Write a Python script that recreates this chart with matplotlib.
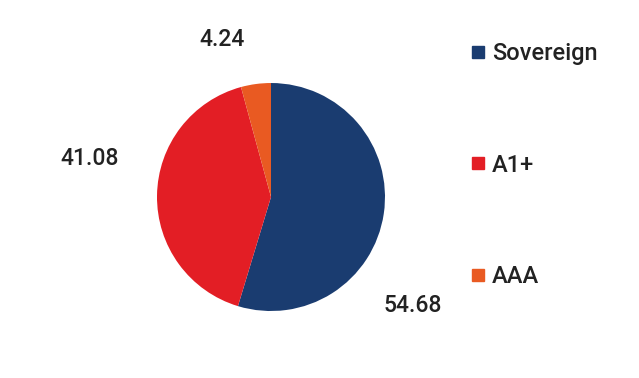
import matplotlib.pyplot as plt
from matplotlib.lines import Line2D

plt.rcParams['font.family'] = ['Roboto', 'DejaVu Sans']

labels = ["Sovereign", "A1+", "AAA"]
values = [54.68, 41.08, 4.24]
colors = ["#1A3C70", "#E31E25", "#E95A22"]
# label anchor positions (axes data units, radius = 1)
label_pos = [(1.24, -0.95), (-1.59, 0.34), (-0.43, 1.38)]

fig = plt.figure(figsize=(6.39, 3.78), dpi=100)
ax = fig.add_axes([0.2457, 0.1772, 0.3568, 0.6032])
ax.pie(values, colors=colors, startangle=90, counterclock=False, radius=1,
       wedgeprops=dict(linewidth=0))
ax.set_xlim(-1, 1)
ax.set_ylim(-1, 1)
ax.set_aspect("equal")
ax.axis("off")

for v, (x, y) in zip(values, label_pos):
    ax.text(x, y, f"{v:.2f}", ha="center", va="center", fontsize=16.5,
            fontweight="medium", color="#222222", clip_on=False)

handles = [Line2D([], [], marker="s", linestyle="none", markersize=8,
                  markerfacecolor=c, markeredgecolor=c) for c in colors]
fig.legend(handles, labels, loc="upper left", bbox_to_anchor=(0.703, 0.945),
           frameon=False, prop=dict(size=17, weight="medium"),
           labelspacing=3.75, handlelength=0.6, handletextpad=0.3,
           labelcolor="#222222")

fig.savefig("out.png", dpi=100)
